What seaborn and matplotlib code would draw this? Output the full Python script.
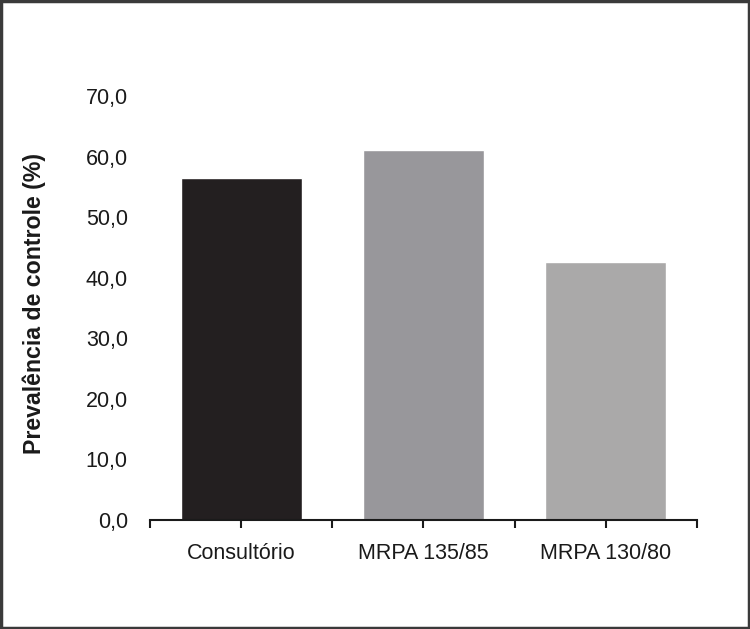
import matplotlib
matplotlib.use("Agg")
import matplotlib.pyplot as plt
import seaborn as sns
import pandas as pd
from matplotlib.patches import Rectangle
from matplotlib.ticker import FuncFormatter

categories = ["Consultório", "MRPA 135/85", "MRPA 130/80"]
values = [56.4, 61.1, 42.6]
bar_colors = ["#231f20", "#98979b", "#aaa9a9"]
y_ticks = [0, 10, 20, 30, 40, 50, 60, 70]
y_label = "Prevalência de controle (%)"

sns.set_theme(style="white")
plt.rcParams['font.family'] = ['Liberation Sans Narrow', 'Liberation Sans', 'DejaVu Sans']

df = pd.DataFrame({"cat": categories, "val": values})

fig = plt.figure(figsize=(7.5, 6.29), dpi=100)
ax = fig.add_axes([0.2, 0.1733, 0.729, 0.6741])

sns.barplot(data=df, x="cat", y="val", hue="cat", palette=bar_colors,
            order=categories, hue_order=categories, width=0.665,
            legend=False, ax=ax, saturation=1)

ax.set_xlim(-0.5, 2.5)
ax.set_ylim(0, 70)
ax.set_yticks(y_ticks)
ax.yaxis.set_major_formatter(FuncFormatter(lambda v, p: f"{v:.1f}".replace(".", ",")))
ax.tick_params(axis="y", length=0, pad=16, labelsize=15.5, colors="#1a1a1a")

ax.set_xticks([0, 1, 2])
ax.set_xticklabels(categories)
ax.set_xticks([-0.5, 0.5, 1.5, 2.5], minor=True)
ax.tick_params(axis="x", which="both", direction="out", length=5.5, width=1.5,
               color="#1a1a1a", bottom=True)
ax.tick_params(axis="x", which="major", labelsize=15.5, pad=11, colors="#1a1a1a")
ax.set_xlabel("")

for s in ["left", "right", "top"]:
    ax.spines[s].set_visible(False)
ax.spines["bottom"].set_linewidth(1.5)
ax.spines["bottom"].set_color("#1a1a1a")

ax.set_ylabel(y_label, fontsize=16.7, fontweight="bold", color="#1a1a1a",
              family=['Liberation Sans', 'DejaVu Sans'])
ax.yaxis.set_label_coords(-0.19, 0.51)

fig.patches.append(Rectangle((0.001, 0.001), 0.998, 0.998, transform=fig.transFigure,
                             fill=False, edgecolor="#3a3a3a", linewidth=2.5))

fig.savefig("out.png", dpi=100)
